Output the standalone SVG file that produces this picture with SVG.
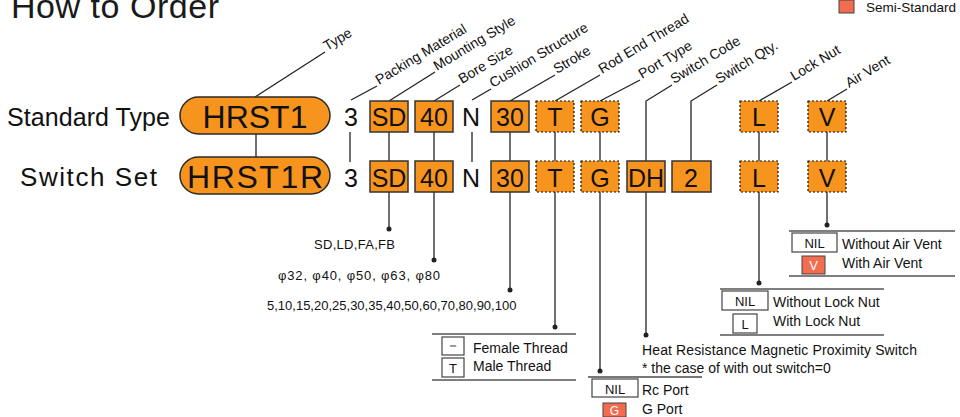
<svg xmlns="http://www.w3.org/2000/svg" width="960" height="417" viewBox="0 0 960 417">
<style>
text{font-family:"Liberation Sans",Arial,sans-serif;fill:#111}
.pill{fill:#F7941E;stroke:#2a2a2a;stroke-width:1.5}
.box{fill:#F7941E;stroke:#333;stroke-width:1.5}
.dbox{fill:#F7941E;stroke:#111;stroke-width:1.2;stroke-dasharray:2 2}
.bt{font-size:25px;text-anchor:middle}
.lbl{font-size:14px}
.opt{font-size:14px}
.num{font-size:13px}
.ob{fill:#fff;stroke:#444;stroke-width:1.2}
.cb{fill:#F26C4F;stroke:#444;stroke-width:1}
.ln{stroke:#222;stroke-width:1.3;fill:none}
.sep{stroke:#555;stroke-width:1.5}
.dot{fill:#222}
</style>
<text x="11" y="18" font-size="34" textLength="208" style="fill:#1a1a1a">How to Order</text>
<g id="legend">
<rect x="839" y="0" width="15" height="13" class="cb"/>
<text x="866" y="12" font-size="13.5">Semi-Standard</text>
</g>
<g id="connectors">
<line class="ln" x1="256" y1="134" x2="256" y2="157"/>
<line class="ln" x1="350" y1="132" x2="350" y2="162"/>
<line class="ln" x1="389" y1="132" x2="389" y2="161"/>
<line class="ln" x1="434" y1="132" x2="434" y2="161"/>
<line class="ln" x1="472" y1="132" x2="472" y2="162"/>
<line class="ln" x1="510" y1="132" x2="510" y2="161"/>
<line class="ln" x1="555" y1="132" x2="555" y2="161"/>
<line class="ln" x1="600" y1="132" x2="600" y2="161"/>
<line class="ln" x1="759" y1="132" x2="759" y2="161"/>
<line class="ln" x1="827" y1="132" x2="827" y2="161"/>
<polyline class="ln" points="255,97 325,52"/>
<polyline class="ln" points="351,100 377,86"/>
<polyline class="ln" points="389,101 435,72"/>
<polyline class="ln" points="434,101 460,85"/>
<polyline class="ln" points="472,100 491,89"/>
<polyline class="ln" points="510,101 555,75"/>
<polyline class="ln" points="555,101 600,75"/>
<polyline class="ln" points="600,101 640,80"/>
<polyline class="ln" points="646,161 646,101 672,85"/>
<polyline class="ln" points="691,161 691,101 717,85"/>
<polyline class="ln" points="759,101 792,82"/>
<polyline class="ln" points="827,101 847,89"/>
<line class="ln" x1="389" y1="192" x2="389" y2="229"/><circle class="dot" cx="389" cy="229" r="2.5"/>
<line class="ln" x1="434" y1="192" x2="434" y2="260"/><circle class="dot" cx="434" cy="260" r="2.5"/>
<line class="ln" x1="510" y1="192" x2="510" y2="290"/><circle class="dot" cx="510" cy="290" r="2.5"/>
<line class="ln" x1="555" y1="192" x2="555" y2="327"/><circle class="dot" cx="555" cy="327" r="2.5"/>
<line class="ln" x1="600" y1="192" x2="600" y2="371"/><circle class="dot" cx="600" cy="371" r="2.5"/>
<line class="ln" x1="646" y1="192" x2="646" y2="335"/><circle class="dot" cx="646" cy="335" r="2.5"/>
<line class="ln" x1="759" y1="192" x2="759" y2="283"/><circle class="dot" cx="759" cy="283" r="2.5"/>
<line class="ln" x1="827" y1="192" x2="827" y2="225"/><circle class="dot" cx="827" cy="225" r="2.5"/>
</g>
<g id="labels">
<text class="lbl" transform="translate(327,51) rotate(-31)">Type</text>
<text class="lbl" transform="translate(379,85) rotate(-31)">Packing Material</text>
<text class="lbl" transform="translate(437,71) rotate(-31)">Mounting Style</text>
<text class="lbl" transform="translate(462,84) rotate(-31)">Bore Size</text>
<text class="lbl" transform="translate(493,88) rotate(-31)">Cushion Structure</text>
<text class="lbl" transform="translate(557,74) rotate(-31)">Stroke</text>
<text class="lbl" transform="translate(602,74) rotate(-31)">Rod End Thread</text>
<text class="lbl" transform="translate(642,79) rotate(-31)">Port Type</text>
<text class="lbl" transform="translate(674,84) rotate(-31)">Switch Code</text>
<text class="lbl" transform="translate(719,84) rotate(-31)">Switch Qty.</text>
<text class="lbl" transform="translate(794,81) rotate(-31)">Lock Nut</text>
<text class="lbl" transform="translate(849,88) rotate(-31)">Air Vent</text>
</g>
<g id="row-standard">
<text x="7" y="126" font-size="25" textLength="163">Standard Type</text>
<g id="n-hrst1"><rect class="pill" x="180" y="97" width="150" height="37" rx="18.5"/><text x="255" y="128" font-size="32" text-anchor="middle">HRST1</text></g>
<text x="351" y="126" class="bt">3</text>
<g id="n-sd1"><rect class="box" x="370" y="101" width="38" height="31"/><text x="389" y="126" class="bt">SD</text></g>
<g id="n-401"><rect class="box" x="415" y="101" width="38" height="31"/><text x="434" y="126" class="bt">40</text></g>
<text x="471" y="126" class="bt">N</text>
<g id="n-301"><rect class="box" x="491" y="101" width="38" height="31"/><text x="510" y="126" class="bt">30</text></g>
<g id="n-t1"><rect class="dbox" x="536" y="101" width="38" height="31"/><text x="555" y="126" class="bt">T</text></g>
<g id="n-g1"><rect class="dbox" x="581" y="101" width="38" height="31"/><text x="600" y="126" class="bt">G</text></g>
<g id="n-l1"><rect class="dbox" x="740" y="101" width="38" height="31"/><text x="759" y="126" class="bt">L</text></g>
<g id="n-v1"><rect class="dbox" x="808" y="101" width="38" height="31"/><text x="827" y="126" class="bt">V</text></g>
</g>
<g id="row-switch">
<text x="20" y="186" font-size="26" textLength="137">Switch Set</text>
<g id="n-hrst1r"><rect class="pill" x="180" y="157" width="150" height="37" rx="18.5"/><text x="255" y="188" font-size="32" text-anchor="middle" textLength="136">HRST1R</text></g>
<text x="351" y="187" class="bt">3</text>
<g id="n-sd2"><rect class="box" x="370" y="161" width="38" height="31"/><text x="389" y="187" class="bt">SD</text></g>
<g id="n-402"><rect class="box" x="415" y="161" width="38" height="31"/><text x="434" y="187" class="bt">40</text></g>
<text x="471" y="187" class="bt">N</text>
<g id="n-302"><rect class="box" x="491" y="161" width="38" height="31"/><text x="510" y="187" class="bt">30</text></g>
<g id="n-t2"><rect class="dbox" x="536" y="161" width="38" height="31"/><text x="555" y="187" class="bt">T</text></g>
<g id="n-g2"><rect class="dbox" x="581" y="161" width="38" height="31"/><text x="600" y="187" class="bt">G</text></g>
<g id="n-dh"><rect class="box" x="627" y="161" width="38" height="31"/><text x="646" y="187" class="bt" textLength="36">DH</text></g>
<g id="n-2"><rect class="box" x="672" y="161" width="39" height="31"/><text x="691" y="187" class="bt">2</text></g>
<g id="n-l2"><rect class="dbox" x="740" y="161" width="38" height="31"/><text x="759" y="187" class="bt">L</text></g>
<g id="n-v2"><rect class="dbox" x="808" y="161" width="38" height="31"/><text x="827" y="187" class="bt">V</text></g>
</g>
<g id="opt-mounting"><text x="314" y="249" class="num" textLength="81">SD,LD,FA,FB</text></g>
<g id="opt-bore"><text x="278" y="280" class="num" textLength="162">φ32, φ40, φ50, φ63, φ80</text></g>
<g id="opt-stroke"><text x="267" y="310" class="num">5,10,15,20,25,30,35,40,50,60,70,80,90,100</text></g>
<g id="opt-rodend">
<line class="sep" x1="432" y1="334" x2="576" y2="334"/>
<rect class="ob" x="442" y="337" width="22" height="18"/><text x="453" y="350" class="opt" text-anchor="middle">－</text>
<text x="473" y="353" class="opt">Female Thread</text>
<rect class="ob" x="442" y="358" width="22" height="19"/><text x="453" y="373" class="num" text-anchor="middle">T</text>
<text x="473" y="371" class="opt">Male Thread</text>
<line class="sep" x1="432" y1="380" x2="576" y2="380"/>
</g>
<g id="opt-port">
<line x1="588" y1="377" x2="702" y2="377" stroke="#777" stroke-width="2"/>
<rect class="ob" x="592" y="379" width="46" height="18"/><text x="615" y="394" class="num" text-anchor="middle">NIL</text>
<text x="642" y="395" class="opt">Rc Port</text>
<rect class="cb" x="603" y="403" width="23" height="14"/><text x="614.5" y="415" font-size="12" text-anchor="middle" style="fill:#fff">G</text>
<text x="642" y="414" class="opt">G Port</text>
</g>
<g id="opt-switch">
<text x="642" y="355" class="opt" textLength="275">Heat Resistance Magnetic Proximity Switch</text>
<text x="642" y="373" class="opt">* the case of with out switch=0</text>
</g>
<g id="opt-locknut">
<line class="sep" x1="720" y1="289" x2="884" y2="289"/>
<rect class="ob" x="722" y="291" width="46" height="19"/><text x="745" y="306" class="num" text-anchor="middle">NIL</text>
<text x="773" y="307" class="opt">Without Lock Nut</text>
<rect class="ob" x="733" y="314" width="24" height="19"/><text x="745" y="329" class="num" text-anchor="middle">L</text>
<text x="773" y="326" class="opt">With Lock Nut</text>
<line class="sep" x1="720" y1="335" x2="884" y2="335"/>
</g>
<g id="opt-airvent">
<line class="sep" x1="789" y1="231" x2="955" y2="231"/>
<rect class="ob" x="792" y="233" width="45" height="19"/><text x="814.5" y="248" class="num" text-anchor="middle">NIL</text>
<text x="842" y="249" class="opt">Without Air Vent</text>
<rect class="cb" x="802" y="256" width="23" height="18"/><text x="813.5" y="270" class="num" text-anchor="middle" style="fill:#fff">V</text>
<text x="842" y="268" class="opt">With Air Vent</text>
<line class="sep" x1="789" y1="276" x2="955" y2="276"/>
</g>
</svg>
